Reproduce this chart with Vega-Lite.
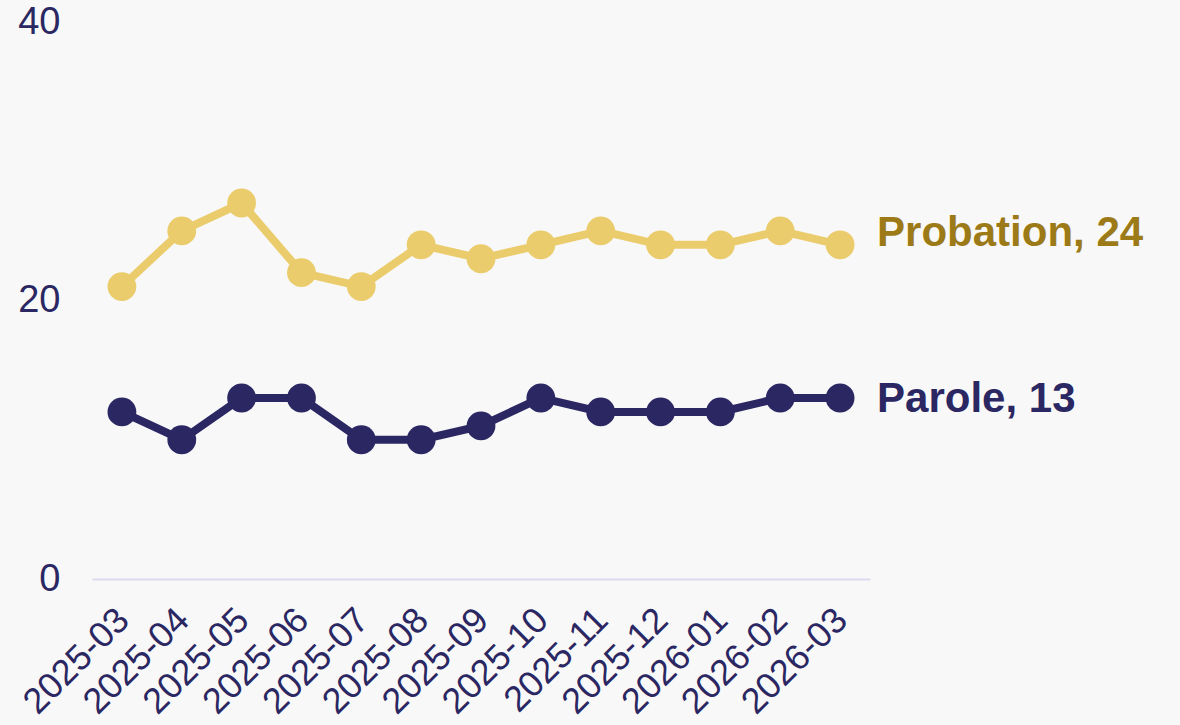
{
  "$schema": "https://vega.github.io/schema/vega-lite/v6.json",
  "autosize": {"type": "none"},
  "width": 778,
  "height": 557,
  "padding": {"left": 92, "top": 22, "right": 310, "bottom": 146},
  "background": "#f8f8f8",
  "config": {
    "view": {"stroke": null},
    "font": "Liberation Sans"
  },
  "datasets": {
    "main": [
      {"month": "2025-03", "series": "Probation", "value": 21},
      {"month": "2025-04", "series": "Probation", "value": 25},
      {"month": "2025-05", "series": "Probation", "value": 27},
      {"month": "2025-06", "series": "Probation", "value": 22},
      {"month": "2025-07", "series": "Probation", "value": 21},
      {"month": "2025-08", "series": "Probation", "value": 24},
      {"month": "2025-09", "series": "Probation", "value": 23},
      {"month": "2025-10", "series": "Probation", "value": 24},
      {"month": "2025-11", "series": "Probation", "value": 25},
      {"month": "2025-12", "series": "Probation", "value": 24},
      {"month": "2026-01", "series": "Probation", "value": 24},
      {"month": "2026-02", "series": "Probation", "value": 25},
      {"month": "2026-03", "series": "Probation", "value": 24},
      {"month": "2025-03", "series": "Parole", "value": 12},
      {"month": "2025-04", "series": "Parole", "value": 10},
      {"month": "2025-05", "series": "Parole", "value": 13},
      {"month": "2025-06", "series": "Parole", "value": 13},
      {"month": "2025-07", "series": "Parole", "value": 10},
      {"month": "2025-08", "series": "Parole", "value": 10},
      {"month": "2025-09", "series": "Parole", "value": 11},
      {"month": "2025-10", "series": "Parole", "value": 13},
      {"month": "2025-11", "series": "Parole", "value": 12},
      {"month": "2025-12", "series": "Parole", "value": 12},
      {"month": "2026-01", "series": "Parole", "value": 12},
      {"month": "2026-02", "series": "Parole", "value": 13},
      {"month": "2026-03", "series": "Parole", "value": 13}
    ],
    "labels": [
      {"month": "2026-03", "series": "Probation", "value": 24, "label": "Probation, 24"},
      {"month": "2026-03", "series": "Parole", "value": 13, "label": "Parole, 13"}
    ]
  },
  "layer": [
    {
      "data": {"name": "main"},
      "mark": {"type": "line", "strokeWidth": 8},
      "encoding": {
        "x": {
          "field": "month", "type": "ordinal",
          "scale": {"type": "point", "padding": 0.5},
          "axis": {
            "title": null, "labelAngle": -45, "labelFontSize": 36, "labelColor": "#2a2762",
            "ticks": false, "domainColor": "#dcdaf0", "domainWidth": 2, "labelPadding": 23, "labelOffset": -11, "grid": false
          }
        },
        "y": {
          "field": "value", "type": "quantitative",
          "scale": {"domain": [0, 40]},
          "axis": {
            "title": null, "values": [0, 20, 40], "labelFontSize": 38, "labelColor": "#2a2762",
            "ticks": false, "domain": false, "grid": false, "labelPadding": 32
          }
        },
        "color": {
          "field": "series", "type": "nominal",
          "scale": {"domain": ["Probation", "Parole"], "range": ["#ebcc6c", "#2a2762"]},
          "legend": null
        }
      }
    },
    {
      "data": {"name": "main"},
      "mark": {"type": "point", "filled": true, "size": 830, "opacity": 1},
      "encoding": {
        "x": {"field": "month", "type": "ordinal"},
        "y": {"field": "value", "type": "quantitative"},
        "color": {"field": "series", "type": "nominal", "legend": null}
      }
    },
    {
      "data": {"name": "labels"},
      "transform": [{"filter": "datum.series === 'Probation'"}],
      "mark": {"type": "text", "align": "left", "baseline": "middle", "dx": 37, "dy": -12, "fontSize": 42, "fontWeight": "bold", "color": "#9c7a17"},
      "encoding": {
        "x": {"field": "month", "type": "ordinal"},
        "y": {"field": "value", "type": "quantitative"},
        "text": {"field": "label"}
      }
    },
    {
      "data": {"name": "labels"},
      "transform": [{"filter": "datum.series === 'Parole'"}],
      "mark": {"type": "text", "align": "left", "baseline": "middle", "dx": 37, "dy": 1, "fontSize": 42, "fontWeight": "bold", "color": "#2a2762"},
      "encoding": {
        "x": {"field": "month", "type": "ordinal"},
        "y": {"field": "value", "type": "quantitative"},
        "text": {"field": "label"}
      }
    }
  ]
}
